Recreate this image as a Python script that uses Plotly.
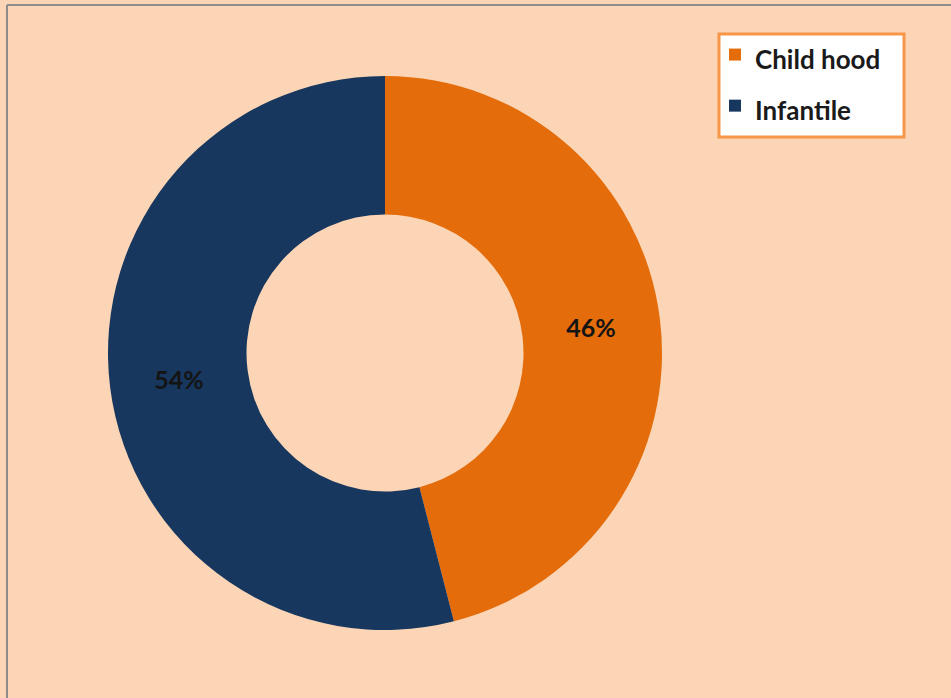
import plotly.graph_objects as go

labels = ["Child hood", "Infantile"]
values = [46, 54]
colors = ["#E46C0A", "#17375E"]

W, H = 951, 698
cx, cy, r = 385, 353, 277

legend_labels = [f"<span style='font-size:26px'>{lab}</span>" for lab in labels]

fig = go.Figure(go.Pie(
    labels=legend_labels,
    values=values,
    hole=0.5,
    sort=False,
    direction="clockwise",
    rotation=0,
    marker=dict(colors=colors, line=dict(width=0)),
    texttemplate="<b>%{percent:.0%}</b>",
    textposition="inside",
    insidetextorientation="horizontal",
    textfont=dict(family="Lato, Open Sans, sans-serif", size=25, color="#141414"),
    domain=dict(x=[(cx - r) / W, (cx + r) / W], y=[(H - cy - r) / H, (H - cy + r) / H]),
    hoverinfo="percent",
    showlegend=True,
))

fig.update_layout(
    width=W, height=H,
    margin=dict(l=0, r=0, t=0, b=0),
    paper_bgcolor="#FBD5B5",
    plot_bgcolor="#FBD5B5",
    legend=dict(
        x=715 / W, y=1 - 24 / H, xanchor="left", yanchor="top",
        bgcolor="rgba(0,0,0,0)", borderwidth=0,
        font=dict(family="Lato, Open Sans, sans-serif", size=37, color="#1a1a1a", weight="bold"),
    ),
    shapes=[
        dict(type="line", xref="paper", yref="paper", x0=7 / W, x1=7 / W, y0=0, y1=1 - 5 / H,
             line=dict(color="#8c8c8c", width=2)),
        dict(type="line", xref="paper", yref="paper", x0=7 / W, x1=1, y0=1 - 5 / H, y1=1 - 5 / H,
             line=dict(color="#8c8c8c", width=2)),
        dict(type="rect", xref="paper", yref="paper",
             x0=719 / W, x1=904 / W, y0=1 - 137 / H, y1=1 - 34 / H,
             fillcolor="white", line=dict(color="#F79646", width=3)),
    ],
)

fig.write_html("out.html")
